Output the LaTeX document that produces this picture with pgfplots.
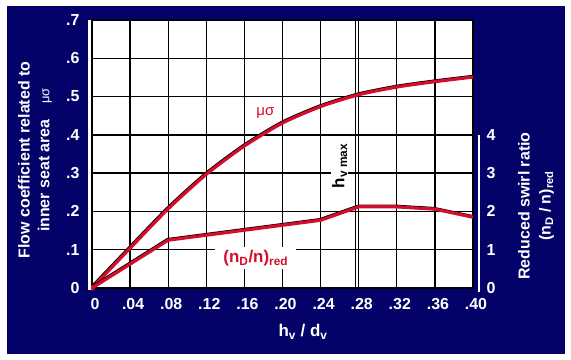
\documentclass[border=0pt]{standalone}
\usepackage{pgfplots}
\pgfplotsset{compat=1.18}
\usepackage{fontspec}
\setmainfont{Liberation Sans}
\definecolor{navy}{RGB}{2,2,104}
\definecolor{cred}{RGB}{214,12,44}
\begin{document}
\begin{tikzpicture}[x=1bp,y=1bp]
\fill[white] (0,0) rectangle (571,359);
\fill[navy] (7,5) rectangle (565,353);
\begin{axis}[
  at={(92bp,71bp)}, anchor=south west,
  scale only axis, width=381bp, height=268bp,
  xmin=0, xmax=0.4, ymin=0, ymax=0.7,
  clip=false,
  axis background/.style={fill=white},
  axis line style={black, line width=1.3bp},
  grid=major, major grid style={black, line width=1.3bp},
  major tick length=0pt,
  xtick={0,0.04,0.08,0.12,0.16,0.20,0.24,0.28,0.32,0.36,0.40},
  xticklabels={0,.04,.08,.12,.16,.20,.24,.28,.32,.36,.40},
  ytick={0,0.1,0.2,0.3,0.4,0.5,0.6,0.7},
  yticklabels={0,.1,.2,.3,.4,.5,.6,.7},
  ticklabel style={white, font=\bfseries\fontsize{16}{19}\selectfont},
  xticklabel style={yshift=-6.5bp, xshift=3bp},
  yticklabel style={xshift=-9bp},
]
\draw[black, line width=1.3bp] (axis cs:0.2765,0) -- (axis cs:0.2765,0.7);
\addplot[black, line width=3.2bp, shift={(-0.6bp,0.6bp)}, smooth, tension=0.4] coordinates {
(0,0) (0.04,0.104) (0.08,0.207) (0.12,0.297) (0.16,0.371) (0.20,0.431) (0.24,0.474) (0.28,0.505) (0.32,0.525) (0.36,0.539) (0.40,0.551)};
\addplot[cred, line width=3.2bp, smooth, tension=0.4] coordinates {
(0,0) (0.04,0.104) (0.08,0.207) (0.12,0.297) (0.16,0.371) (0.20,0.431) (0.24,0.474) (0.28,0.505) (0.32,0.525) (0.36,0.539) (0.40,0.551)};
\node[text=cred, font=\fontsize{15}{18}\selectfont] at (axis cs:0.182,0.457) {μσ};
\node[fill=white, inner xsep=8bp, inner ysep=3bp, text=cred, font=\bfseries\fontsize{17}{20}\selectfont] at (axis cs:0.172,0.078) {(n\textsubscript{D}/n)\textsubscript{red}};
\node[rotate=90, fill=white, inner sep=1bp, text=black, font=\bfseries\fontsize{17}{20}\selectfont] at (axis cs:0.260,0.319) {h\textsubscript{v max}};
\end{axis}
\begin{axis}[
  at={(92bp,71bp)}, anchor=south west,
  scale only axis, width=381bp, height=268bp,
  xmin=0, xmax=0.4, ymin=0, ymax=7,
  clip=false,
  hide x axis,
  axis y line*=right,
  y axis line style={draw=none},
  major tick length=0pt,
  ytick={0,1,2,3,4},
  yticklabels={0,1,2,3,4},
  ticklabel style={white, font=\bfseries\fontsize{16}{19}\selectfont},
  yticklabel style={xshift=10bp},
]
\addplot[black, line width=3.2bp, shift={(-0.6bp,0.6bp)}] coordinates {
(0,0) (0.08,1.25) (0.24,1.77) (0.28,2.12) (0.32,2.12) (0.36,2.06) (0.40,1.85)};
\addplot[cred, line width=3.2bp] coordinates {
(0,0) (0.08,1.25) (0.24,1.77) (0.28,2.12) (0.32,2.12) (0.36,2.06) (0.40,1.85)};
\addplot[cred, only marks, mark=*, mark size=2.5bp] coordinates {(0,0)};
\end{axis}
\draw[white, line width=2.5bp] (89.5,69) -- (89.5,339);
\draw[white, line width=2bp] (478.5,67) -- (478.5,224);
\node[rotate=90, white, align=center, font=\bfseries\fontsize{16}{20}\selectfont] at (35,199)
  {Flow coefficient related to\\inner seat area\quad{\mdseries\fontsize{13}{16}\selectfont μσ}};
\node[rotate=90, white, align=center, font=\bfseries\fontsize{16}{21}\selectfont] at (536,153)
  {Reduced swirl ratio\\(n\textsubscript{D} / n)\textsubscript{red}};
\node[white, font=\bfseries\fontsize{17}{20}\selectfont] at (303,27) {h\textsubscript{v} / d\textsubscript{v}};
\end{tikzpicture}
\end{document}
